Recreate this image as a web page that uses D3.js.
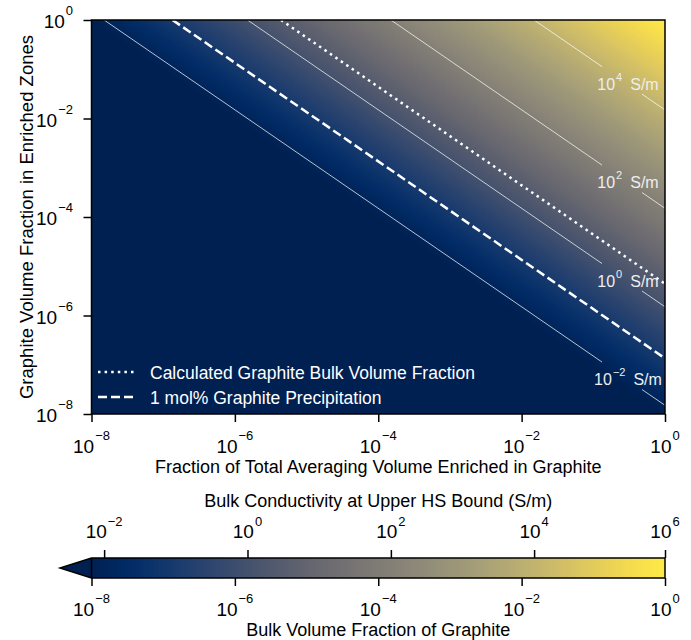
<!DOCTYPE html>
<html>
<head>
<meta charset="utf-8">
<script src="https://cdn.jsdelivr.net/npm/d3@7"></script>
<style>
body{margin:0;background:#fff;}
text{font-family:"Liberation Sans",Arial,sans-serif;fill:#000;}
</style>
</head>
<body>
<div id="canvas"></div>
<script>
// tick exponents (powers of ten)
var xTickExp = [-8,-6,-4,-2,0];
var yTickExp = [-8,-6,-4,-2,0];
var cbTickExp = [-8,-6,-4,-2,0];
var condTickExp = [-2,0,2,4,6];
// conductivity contours (S/m, exponents)
var contourExp = [-2,0,2,4];
// reference lines: constant bulk volume fraction
var lineNames = ['Calculated Graphite Bulk Volume Fraction','1 mol% Graphite Precipitation'];
var lineFractions = [4.4e-6, 1.35e-7];
var lineDash = ['2.5,4.1','9,4'];
var sigmaGraphite = 1e6;

var W = 691, H = 640;
var svg = d3.select('#canvas').append('svg').attr('width',W).attr('height',H);

var x = d3.scaleLog().domain([1e-8,1]).range([91.5,665]);
var y = d3.scaleLog().domain([1e-8,1]).range([414,20]);
var cb = d3.scaleLog().domain([1e-8,1]).range([91.5,665]);

// upper Hashin-Shtrikman bound, insulating matrix: s = sg*2phi/(3-phi)
function phiFromSigma(s){ var r = s/sigmaGraphite; return 3*r/(2+r); }

var defs = svg.append('defs');

// heat map: colour depends on log10(x*y) which is linear in pixel space
var X0 = x(1e-8), X1 = x(1), Yb = y(1e-8), Yt = y(1);
var dx = X1-X0, dy = Yb-Yt;
var t = dx*dx/(dx*dx+dy*dy);
var grad = defs.append('linearGradient').attr('id','heat')
    .attr('gradientUnits','userSpaceOnUse')
    .attr('x1',X0+t*dx).attr('y1',Yt+t*dy)
    .attr('x2',X1).attr('y2',Yt);
var stops = d3.range(0,1.0001,0.02);
grad.selectAll('stop').data(stops).enter().append('stop')
    .attr('offset',function(d){return d;})
    .attr('stop-color',function(d){return d3.interpolateCividis(d);});

var cbGrad = defs.append('linearGradient').attr('id','cbar');
cbGrad.selectAll('stop').data(stops).enter().append('stop')
    .attr('offset',function(d){return d;})
    .attr('stop-color',function(d){return d3.interpolateCividis(d);});

defs.append('clipPath').attr('id','plotclip').append('rect')
    .attr('x',X0).attr('y',Yt).attr('width',dx).attr('height',dy);

svg.append('rect').attr('x',X0).attr('y',Yt).attr('width',dx).attr('height',dy)
    .attr('fill','url(#heat)');

var plot = svg.append('g').attr('clip-path','url(#plotclip)');
var line = d3.line();

// contour lines with a gap for the inline label
var labelX = 628, gapL = 602, gapR = 642;
function yAt(phi,px){ return y(phi/x.invert(px)); }
contourExp.forEach(function(e){
    var phi = phiFromSigma(Math.pow(10,e));
    var segs = [
        [[x(phi),y(1)],[gapL,yAt(phi,gapL)]],
        [[gapR,yAt(phi,gapR)],[x(1),y(phi)]]
    ];
    segs.forEach(function(s){
        plot.append('path').attr('d',line(s))
            .attr('stroke','#fff').attr('stroke-opacity',0.8)
            .attr('stroke-width',0.9).attr('fill','none');
    });
    var lt = svg.append('text').attr('x',labelX).attr('y',yAt(phi,labelX)+5.5)
        .attr('text-anchor','middle').style('font-size','16px').style('fill','#eee');
    lt.append('tspan').text('10');
    lt.append('tspan').attr('dy',-9).attr('dx',1).style('font-size','11px').text(String(e).replace('-','\u2212'));
    lt.append('tspan').attr('dy',9).text('\u2002S/m');
});

// constant bulk fraction lines
lineFractions.forEach(function(phi,i){
    plot.append('path').attr('d',line([[x(phi),y(1)],[x(1),y(phi)]]))
        .attr('stroke','#fff').attr('stroke-width',2.5)
        .attr('stroke-dasharray',lineDash[i]).attr('fill','none');
});

// legend
var leg = svg.append('g');
lineNames.forEach(function(n,i){
    var ly = 372 + i*25;
    leg.append('path').attr('d',line([[98,ly],[134,ly]]))
        .attr('stroke','#fff').attr('stroke-width',2.5)
        .attr('stroke-dasharray',lineDash[i]);
    leg.append('text').attr('x',150).attr('y',ly+6.5).style('font-size','17.5px')
        .style('fill','#fff').text(n);
});

// frame
svg.append('rect').attr('x',X0).attr('y',Yt).attr('width',dx).attr('height',dy)
    .attr('fill','none').attr('stroke','#000').attr('stroke-width',1.5);

function powLabel(sel, e, small, shift){
    sel.append('tspan').text('10');
    sel.append('tspan').attr('dy',-shift).attr('dx',1).style('font-size',small+'px')
        .text(String(e).replace('-','\u2212'));
}

// axes (ticks only, labels written as power tspans)
var axX = svg.append('g').attr('transform','translate(0,'+Yb+')')
    .call(d3.axisBottom(x).tickValues(xTickExp.map(function(e){return Math.pow(10,e);})).tickSize(8).tickFormat(''));
var axY = svg.append('g').attr('transform','translate('+X0+',0)')
    .call(d3.axisLeft(y).tickValues(yTickExp.map(function(e){return Math.pow(10,e);})).tickSize(8).tickFormat(''));
[axX,axY].forEach(function(a){
    a.select('.domain').remove();
    a.selectAll('line').attr('stroke','#000').attr('stroke-width',1.5);
});

xTickExp.forEach(function(e){
    var tx = svg.append('text').attr('x',x(Math.pow(10,e))).attr('y',453)
        .attr('text-anchor','middle').style('font-size','19px');
    powLabel(tx,e,13,13);
});
yTickExp.forEach(function(e){
    var ty = svg.append('text').attr('x',73).attr('y',y(Math.pow(10,e))+8)
        .attr('text-anchor','end').style('font-size','19px');
    powLabel(ty,e,13,13);
});

svg.append('text').attr('x',(X0+X1)/2).attr('y',473).attr('text-anchor','middle')
    .style('font-size','18px').text('Fraction of Total Averaging Volume Enriched in Graphite');
svg.append('text').attr('transform','translate(33,'+((Yt+Yb)/2)+') rotate(-90)')
    .attr('text-anchor','middle').style('font-size','18.5px')
    .text('Graphite Volume Fraction in Enriched Zones');

// colorbar
var cbTop = 558, cbBot = 578, cbMid = (cbTop+cbBot)/2;
svg.append('rect').attr('x',cb(1e-8)).attr('y',cbTop)
    .attr('width',cb(1)-cb(1e-8)).attr('height',cbBot-cbTop).attr('fill','url(#cbar)');
svg.append('path').attr('d',line([[cb(1e-8),cbTop],[60,cbMid],[cb(1e-8),cbBot]])+'Z')
    .attr('fill',d3.interpolateCividis(0));
svg.append('path')
    .attr('d',line([[cb(1e-8),cbTop],[cb(1),cbTop],[cb(1),cbBot],[cb(1e-8),cbBot],[60,cbMid]])+'Z')
    .attr('fill','none').attr('stroke','#000').attr('stroke-width',1.5);
svg.append('path').attr('d',line([[cb(1e-8),cbTop],[cb(1e-8),cbBot]]))
    .attr('stroke','#000').attr('stroke-width',1.5);

var axCb = svg.append('g').attr('transform','translate(0,'+cbBot+')')
    .call(d3.axisBottom(cb).tickValues(cbTickExp.map(function(e){return Math.pow(10,e);})).tickSize(8).tickFormat(''));
var condPos = condTickExp.map(function(e){return phiFromSigma(Math.pow(10,e));});
var axCond = svg.append('g').attr('transform','translate(0,'+cbTop+')')
    .call(d3.axisTop(cb).tickValues(condPos).tickSize(8).tickFormat(''));
[axCb,axCond].forEach(function(a){
    a.select('.domain').remove();
    a.selectAll('line').attr('stroke','#000').attr('stroke-width',1.5);
});
cbTickExp.forEach(function(e){
    var tb = svg.append('text').attr('x',cb(Math.pow(10,e))).attr('y',616)
        .attr('text-anchor','middle').style('font-size','19px');
    powLabel(tb,e,13,13);
});
condTickExp.forEach(function(e,i){
    var tc = svg.append('text').attr('x',cb(condPos[i])).attr('y',538)
        .attr('text-anchor','middle').style('font-size','19px');
    powLabel(tc,e,13,12);
});
svg.append('text').attr('x',(X0+X1)/2).attr('y',507).attr('text-anchor','middle')
    .style('font-size','18px').text('Bulk Conductivity at Upper HS Bound (S/m)');
svg.append('text').attr('x',(X0+X1)/2).attr('y',636).attr('text-anchor','middle')
    .style('font-size','18px').text('Bulk Volume Fraction of Graphite');
</script>
</body>
</html>
